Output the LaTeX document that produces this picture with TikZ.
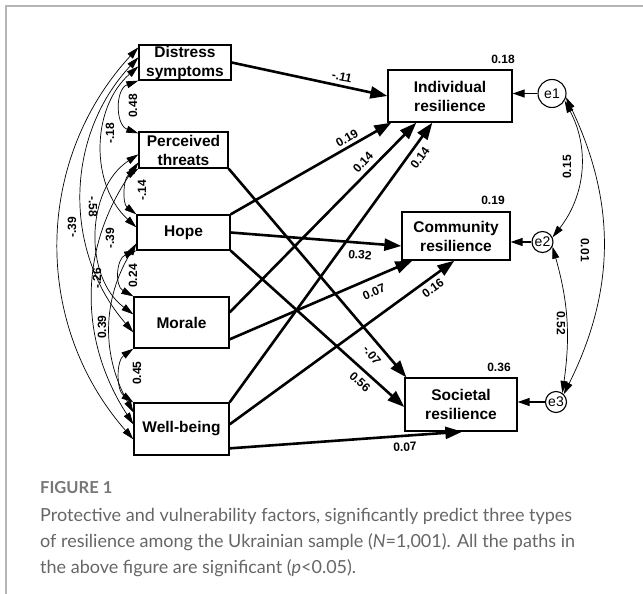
\documentclass[tikz,border=0pt]{standalone}
\usepackage{fontspec}
\setmainfont{Liberation Sans}
\newfontfamily\capfont{Lato}
\usetikzlibrary{arrows.meta,calc}
\definecolor{framegray}{HTML}{B5B5B5}
\definecolor{capgray}{HTML}{666666}
\definecolor{figgray}{HTML}{777777}
\begin{document}
\begin{tikzpicture}[x=1pt,y=-1pt,
  box/.style={draw, line width=1.3pt, rectangle, inner sep=0pt, align=center, font=\fontsize{15.5}{19}\selectfont\bfseries},
  err/.style={draw, circle, line width=1.1pt, inner sep=0pt, minimum size=21pt, font=\fontsize{14}{14}\selectfont},
  reg/.style={line width=2.6pt, -{Triangle[length=17pt,width=12pt]}},
  cov/.style={line width=0.7pt, {Triangle[length=12pt,width=7pt]}-{Triangle[length=12pt,width=7pt]}},
  res/.style={line width=1.2pt, -{Triangle[length=12pt,width=8pt]}},
  lab/.style={font=\fontsize{12}{12}\selectfont\bfseries, inner sep=0pt},
  capline/.style={anchor=base west, inner sep=0pt, text=capgray, font=\fontsize{18}{20}\selectfont\capfont},
]
\useasboundingbox (0,0) rectangle (643,594);
\draw[line width=2pt, color=framegray] (6,594) -- (6,6) -- (643,6);

% boxes
\node[box, minimum width=92pt, minimum height=35pt] (D) at (185,62.5) {Distress\\symptoms};
\node[box, minimum width=89pt, minimum height=36pt] (P) at (183.5,150) {Perceived\\threats};
\node[box, minimum width=93pt, minimum height=35pt] (H) at (183.5,232.5) {Hope};
\node[box, minimum width=95pt, minimum height=51pt] (M) at (181.5,322.5) {Morale};
\node[box, minimum width=95pt, minimum height=52pt] (W) at (181.5,429) {Well-being};
\node[box, minimum width=124pt, minimum height=52pt] (I) at (450,96) {Individual\\resilience};
\node[box, minimum width=108pt, minimum height=48pt] (C) at (456,236) {Community\\resilience};
\node[box, minimum width=112pt, minimum height=53pt] (S) at (461,404.5) {Societal\\resilience};
\node[err, minimum size=28pt] (e1) at (552,93.5) {e1};
\node[err] (e2) at (542.5,242) {e2};
\node[err] (e3) at (556,402) {e3};

% R squared
\node[lab] (r1) at (503,59) {0.18};
\node[lab] (r2) at (493,200) {0.19};
\node[lab] (r3) at (499,367) {0.36};

% regression paths
\draw[reg] (D.east) -- (I.west);
\draw[reg] (H.north east) -- ($(I.south west)+(4,0)$);
\draw[reg] ($(M.north east)+(0,16)$) -- ($(I.south west)+(29,0)$);
\draw[reg] (W.north east) -- ($(I.south west)+(45,0)$);
\draw[reg] (H.east) -- ($(C.west)+(0,10)$);
\draw[reg] ($(M.north east)+(0,43)$) -- ($(C.south west)+(11,0)$);
\draw[reg] ($(W.north east)+(0,22)$) -- ($(C.south west)+(53,0)$);
\draw[reg] (P.south east) -- ($(S.north west)+(2,0)$);
\draw[reg] (H.south east) -- ($(S.west)+(0,2.5)$);
\draw[reg] ($(W.north east)+(0,46)$) -- ($(S.south west)+(58,0)$);

\node[lab, rotate=-12] (p1) at (342,77) {-.11};
\node[lab, rotate=30] (p2) at (347,138) {0.19};
\node[lab, rotate=47] (p3) at (363,162) {0.14};
\node[lab, rotate=54] (p4) at (420,158) {0.14};
\node[lab, rotate=-5] (p5) at (360,255) {0.32};
\node[lab, rotate=23] (p6) at (374,292) {0.07};
\node[lab, rotate=36] (p7) at (433,288) {0.16};
\node[lab, rotate=-52] (p8) at (372,355) {-.07};
\node[lab, rotate=-42] (p9) at (360,382) {0.56};
\node[lab, rotate=3] (p10) at (405,447) {0.07};

% residual arrows
\draw[res] (e1.west) -- (e1.west -| I.east);
\draw[res] (e2.west) -- (e2.west -| C.east);
\draw[res] (e3.west) -- (e3.west -| S.east);

% residual covariances
\draw[cov] (e1.-30) to[bend left=33] (e2.25);
\draw[cov] (e1.-15) to[bend left=26] (e3.45);
\draw[cov] (e2.-25) to[bend left=12] (e3.55);
\node[lab, rotate=90] (c11) at (567,167) {0.15};
\node[lab, rotate=-90] (c12) at (585,250) {0.01};
\node[lab, rotate=-90] (c13) at (561,323) {0.52};

% exogenous covariances
\draw[cov] ($(D.north west)+(0,3)$) to[bend right=42] ($(W.north west)+(0,37)$);
\draw[cov] ($(D.north west)+(0,13)$) to[bend right=42] ($(M.north west)+(0,36)$);
\draw[cov] ($(D.north west)+(0,22)$) to[bend right=48] ($(H.north west)+(0,13)$);
\draw[cov] (D.south west) to[bend right=70, looseness=1.2] ($(P.north west)+(0,2)$);
\draw[cov] (P.south west) to[bend right=55] (H.north west);
\draw[cov] ($(P.north west)+(0,23)$) to[bend right=55] ($(M.north west)+(0,18)$);
\draw[cov] ($(P.north west)+(0,31)$) to[bend right=34] ($(W.north west)+(0,22)$);
\draw[cov] (H.south west) to[bend right=65, looseness=1.2] (M.north west);
\draw[cov] ($(H.north west)+(0,29)$) to[bend right=30] ($(W.north west)+(0,10)$);
\draw[cov] (M.south west) to[bend right=55] (W.north west);

\node[lab, rotate=90] (c1) at (133,106) {0.48};
\node[lab, rotate=90] (c2) at (110,133) {-.18};
\node[lab, rotate=-90] (c3) at (93,207) {-.58};
\node[lab, rotate=90] (c4) at (72,227) {-.39};
\node[lab, rotate=90] (c5) at (142,190) {-.14};
\node[lab, rotate=90] (c6) at (110,238) {-.39};
\node[lab, rotate=90] (c7) at (97,278) {-.26};
\node[lab, rotate=90] (c8) at (133,276) {0.24};
\node[lab, rotate=90] (c9) at (102,327) {0.39};
\node[lab, rotate=90] (c10) at (137,373) {0.45};

% caption
\node[anchor=base west, inner sep=0pt, text=figgray, font=\fontsize{16.5}{16.5}\selectfont\capfont\bfseries] (fig) at (40,493) {FIGURE 1};
\node[capline] (cap1) at (40,521) {Protective and vulnerability factors, significantly predict three types};
\node[capline] (cap2) at (40,547) {of resilience among the Ukrainian sample (\textit{N}=1,001). All the paths in};
\node[capline] (cap3) at (40,573) {the above figure are significant (\textit{p}<0.05).};
\end{tikzpicture}
\end{document}
